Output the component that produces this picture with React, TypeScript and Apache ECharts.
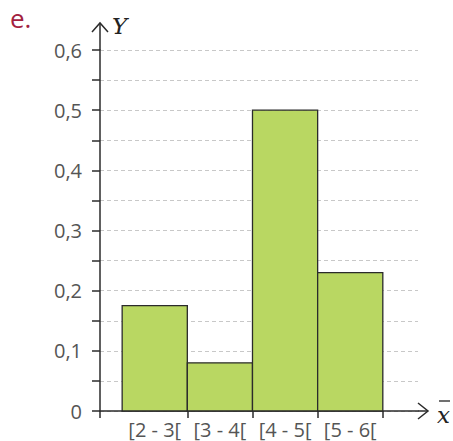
import React, { useEffect, useRef } from "react";
import * as echarts from "echarts";

const categories = ["[2 - 3[", "[3 - 4[", "[4 - 5[", "[5 - 6["];
const classLower = [2, 3, 4, 5];
const classUpper = [3, 4, 5, 6];
const frequencies = [0.175, 0.08, 0.5, 0.23];
const xTickValues = [1.66, 3, 4, 5, 6];
const xLabelValues = [2.5, 3.5, 4.5, 5.5];

export default function App() {
  const ref = useRef<HTMLDivElement>(null);
  useEffect(() => {
    if (!ref.current) return;
    const chart = echarts.init(ref.current, null, { renderer: "svg" });
    const axisColor = "#2b2b2b";
    const labelColor = "#555";
    const data = classLower.map((lo, i) => [lo, classUpper[i], frequencies[i]]);
    chart.setOption({
      animation: false,
      grid: {
        left: 100,
        right: 35,
        top: 50,
        bottom: 30,
        containLabel: false,
        outerBoundsMode: "none",
      },
      xAxis: {
        type: "value",
        min: 1.66,
        max: 6.54,
        axisLine: { show: true, onZero: false, lineStyle: { color: axisColor, width: 1.5 } },
        axisTick: {
          show: true,
          length: 7,
          customValues: xTickValues,
          lineStyle: { color: axisColor, width: 1.5 },
        },
        axisLabel: {
          show: true,
          customValues: xLabelValues,
          formatter: (v: number) => categories[Math.round(v - 2.5)] ?? "",
          color: labelColor,
          fontFamily: "Open Sans",
          fontSize: 20,
          lineHeight: 20,
          margin: 8,
        },
        splitLine: { show: false },
      },
      yAxis: {
        type: "value",
        min: 0,
        max: 0.6,
        interval: 0.05,
        axisLine: { show: true, lineStyle: { color: axisColor, width: 1.5 } },
        axisTick: { show: true, length: 8, lineStyle: { color: axisColor, width: 1.5 } },
        axisLabel: {
          color: labelColor,
          fontFamily: "Open Sans",
          fontSize: 20,
          margin: 18,
          formatter: (v: number) => {
            const k = Math.round(v * 100);
            if (k % 10 !== 0) return "";
            return (k / 100).toFixed(1).replace(".", ",").replace(/^0,0$/, "0");
          },
        },
        splitLine: {
          show: true,
          lineStyle: { color: "#c8c8c8", type: [4, 3], width: 1.2 },
        },
      },
      series: [
        {
          type: "custom",
          data,
          encode: { x: [0, 1], y: 2 },
          renderItem: (params: any, api: any) => {
            const p0 = api.coord([api.value(0), api.value(2)]);
            const p1 = api.coord([api.value(1), 0]);
            return {
              type: "rect",
              shape: { x: p0[0], y: p0[1], width: p1[0] - p0[0], height: p1[1] - p0[1] },
              style: { fill: "#b9d762", stroke: "#2b2b2b", lineWidth: 1.3 },
            };
          },
        },
      ],
      graphic: [
        {
          type: "text",
          left: 10,
          top: 5,
          style: { text: "e.", fill: "#a3223f", font: "26px 'Open Sans'" },
        },
        {
          type: "line",
          shape: { x1: 100, y1: 50, x2: 100, y2: 23 },
          style: { stroke: axisColor, lineWidth: 1.5 },
        },
        {
          type: "polyline",
          shape: { points: [[92, 32], [100, 23], [108, 32]] },
          style: { stroke: axisColor, lineWidth: 1.5, fill: "none" },
        },
        {
          type: "line",
          shape: { x1: 418, y1: 411, x2: 428, y2: 411 },
          style: { stroke: axisColor, lineWidth: 1.5 },
        },
        {
          type: "polyline",
          shape: { points: [[418, 403], [428, 411], [418, 419]] },
          style: { stroke: axisColor, lineWidth: 1.5, fill: "none" },
        },
        {
          type: "text",
          x: 112,
          y: 14,
          style: { text: "Y", fill: "#222", font: "italic 23px 'DejaVu Serif'" },
        },
        {
          type: "text",
          x: 437,
          y: 403,
          style: { text: "x", fill: "#222", font: "italic 23px 'DejaVu Serif'" },
        },
        {
          type: "line",
          shape: { x1: 439, y1: 401, x2: 450, y2: 401 },
          style: { stroke: "#222", lineWidth: 1.3 },
        },
      ],
    });
    return () => chart.dispose();
  }, []);
  return (
    <div
      ref={ref}
      style={{ position: "fixed", left: 0, top: 0, width: 453, height: 441, background: "#fff" }}
    />
  );
}
